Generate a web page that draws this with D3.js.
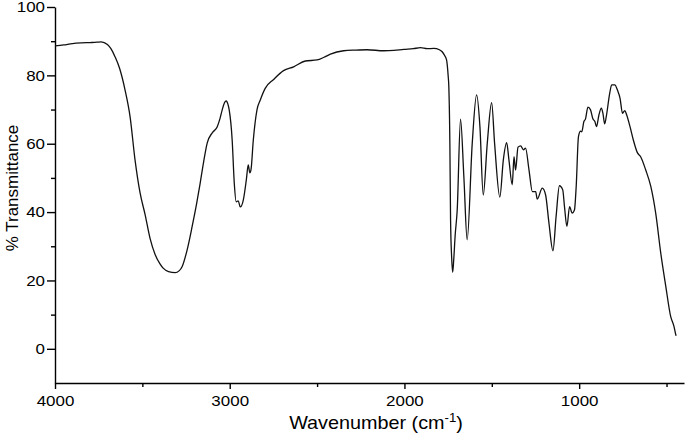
<!DOCTYPE html>
<html>
<head>
<meta charset="utf-8">
<script src="https://cdn.jsdelivr.net/npm/d3@7"></script>
<style>
  body { margin: 0; background: #fff; }
  text { font-family: "Liberation Sans", Arial, sans-serif; fill: #000; }
</style>
</head>
<body>
<div id="chart"></div>
<script>
// IR spectrum (wavenumber in cm-1, % transmittance)
const wavenumber = [
  4000, 3950, 3900, 3850, 3800, 3760, 3736, 3700, 3680, 3656, 3630, 3599, 3570, 3542, 3513, 3484,
  3456, 3427, 3400, 3381, 3350, 3312, 3290, 3272, 3244, 3215, 3190, 3169, 3150, 3129, 3100, 3072,
  3055, 3043, 3030, 3020, 3010, 3003, 2986, 2974, 2963, 2951, 2940, 2922, 2905, 2894, 2885, 2878,
  2865, 2844, 2825, 2797, 2749, 2692, 2634, 2567, 2500, 2460, 2424, 2348, 2280, 2214, 2119, 2060,
  2004, 1950, 1908, 1870, 1832, 1800, 1784, 1770, 1759, 1750, 1746, 1740, 1736, 1730, 1724, 1718,
  1710, 1698, 1679, 1660, 1641, 1612, 1587, 1568, 1549, 1526, 1501, 1484, 1454, 1434, 1415, 1402,
  1383, 1373, 1364, 1350, 1335, 1319, 1307, 1287, 1268, 1249, 1240, 1211, 1192, 1173, 1150, 1132,
  1113, 1094, 1084, 1070, 1055, 1040, 1027, 1017, 1004, 992, 985, 973, 964, 950, 935, 921,
  910, 901, 887, 873, 864, 854, 845, 825, 814, 796, 781, 766, 752, 739, 728, 709,
  690, 667, 648, 619, 590, 562, 533, 504, 476, 457, 447, 445
];
const transmittance = [
  88.6, 88.9, 89.3, 89.5, 89.6, 89.7, 89.8, 89.0, 87.8, 85.4, 82.0, 75.7, 67.8, 55.3, 45.6, 39.2,
  32.3, 27.6, 24.9, 23.6, 22.6, 22.3, 22.8, 24.1, 28.9, 35.8, 42.3, 48.5, 54.5, 60.2, 63.2, 64.9,
  67.5, 69.9, 72.0, 72.5, 71.5, 69.9, 61.1, 48.5, 43.0, 43.3, 41.5, 43.6, 49.4, 53.8, 51.5, 52.5,
  61.1, 69.9, 72.8, 76.2, 78.8, 81.4, 82.5, 84.2, 84.5, 85.3, 86.2, 87.2, 87.4, 87.5, 87.2, 87.3,
  87.6, 87.8, 88.1, 87.8, 87.9, 87.5, 86.9, 85.8, 84.5, 80.0, 76.7, 60.0, 37.7, 27.0, 22.4, 26.0,
  33.0, 40.6, 67.2, 50.4, 31.9, 60.1, 74.3, 65.0, 45.0, 60.1, 72.0, 60.1, 44.4, 55.3, 60.3, 55.3,
  48.0, 56.2, 52.3, 59.0, 59.4, 58.2, 58.7, 52.3, 46.0, 46.0, 43.8, 47.0, 45.0, 36.8, 28.7, 38.7,
  47.7, 46.5, 41.6, 35.8, 41.6, 39.7, 40.6, 47.5, 62.1, 63.7, 63.5, 66.5, 67.2, 70.7, 69.9, 67.2,
  66.5, 65.0, 68.4, 70.4, 68.9, 65.8, 67.9, 74.8, 77.2, 77.2, 75.7, 73.3, 68.9, 69.7, 68.4, 65.0,
  61.1, 57.4, 56.2, 52.3, 47.5, 39.7, 28.0, 18.2, 9.4, 6.5, 4.1, 3.8
];
const xTicks = [4000, 3000, 2000, 1000];
const xMinorTicks = [3500, 2500, 1500, 500];
const yTicks = [0, 20, 40, 60, 80, 100];
const yMinorTicks = [10, 30, 50, 70, 90];

const width = 685;
const height = 435;
const stretch = 1.13; // the reference text is a bit wider than plain Arial

const svg = d3.select("#chart")
    .append("svg")
    .attr("width", width)
    .attr("height", height);

const x = d3.scaleLinear().domain([4000, 400]).range([55, 684]);
const y = d3.scaleLinear().domain([-10, 100]).range([383, 7]);

const points = wavenumber.map((w, i) => ({ w: w, t: transmittance[i] }));

// Minor ticks first so the major axis sits on top
svg.append("g")
    .attr("transform", `translate(0,${y(-10)})`)
    .call(d3.axisBottom(x).tickValues(xMinorTicks).tickSize(4).tickSizeOuter(0).tickFormat(""))
    .call(g => g.select(".domain").remove());

svg.append("g")
    .attr("transform", `translate(${x(4000)},0)`)
    .call(d3.axisLeft(y).tickValues(yMinorTicks).tickSize(4).tickSizeOuter(0).tickFormat(""))
    .call(g => g.select(".domain").remove());

// X axis
const xAxis = svg.append("g")
    .attr("transform", `translate(0,${y(-10)})`)
    .call(d3.axisBottom(x).tickValues(xTicks).tickSize(6).tickSizeOuter(0).tickFormat(d3.format("d")));

xAxis.selectAll("text")
    .attr("y", 23)
    .attr("dy", null)
    .attr("transform", `scale(${stretch},1)`)
    .style("font-size", "15px");

// Y axis
const yAxis = svg.append("g")
    .attr("transform", `translate(${x(4000)},0)`)
    .call(d3.axisLeft(y).tickValues(yTicks).tickSize(8).tickSizeOuter(0));

yAxis.selectAll("text")
    .attr("x", -10 / stretch)
    .attr("transform", `scale(${stretch},1)`)
    .style("font-size", "15px");

svg.selectAll(".domain, .tick line")
    .attr("stroke", "#000")
    .attr("stroke-width", 1.4);

svg.selectAll(".tick text").attr("fill", "#000");

// Spectrum line
const line = d3.line()
    .x(d => x(d.w))
    .y(d => y(d.t))
    .curve(d3.curveMonotoneX);

svg.append("path")
    .datum(points)
    .attr("fill", "none")
    .attr("stroke", "#111")
    .attr("stroke-width", 1.3)
    .attr("stroke-linejoin", "round")
    .attr("d", line);

// Axis titles
const xTitle = svg.append("text")
    .attr("transform", `translate(376,429) scale(1.1,1)`)
    .attr("text-anchor", "middle")
    .style("font-size", "18px");
xTitle.append("tspan").text("Wavenumber (cm");
xTitle.append("tspan").attr("dy", -7).style("font-size", "12px").text("-1");
xTitle.append("tspan").attr("dy", 7).text(")");

svg.append("text")
    .attr("transform", "translate(18,188) rotate(-90)")
    .attr("text-anchor", "middle")
    .style("font-size", "17px")
    .text("% Transmittance");
</script>
</body>
</html>
